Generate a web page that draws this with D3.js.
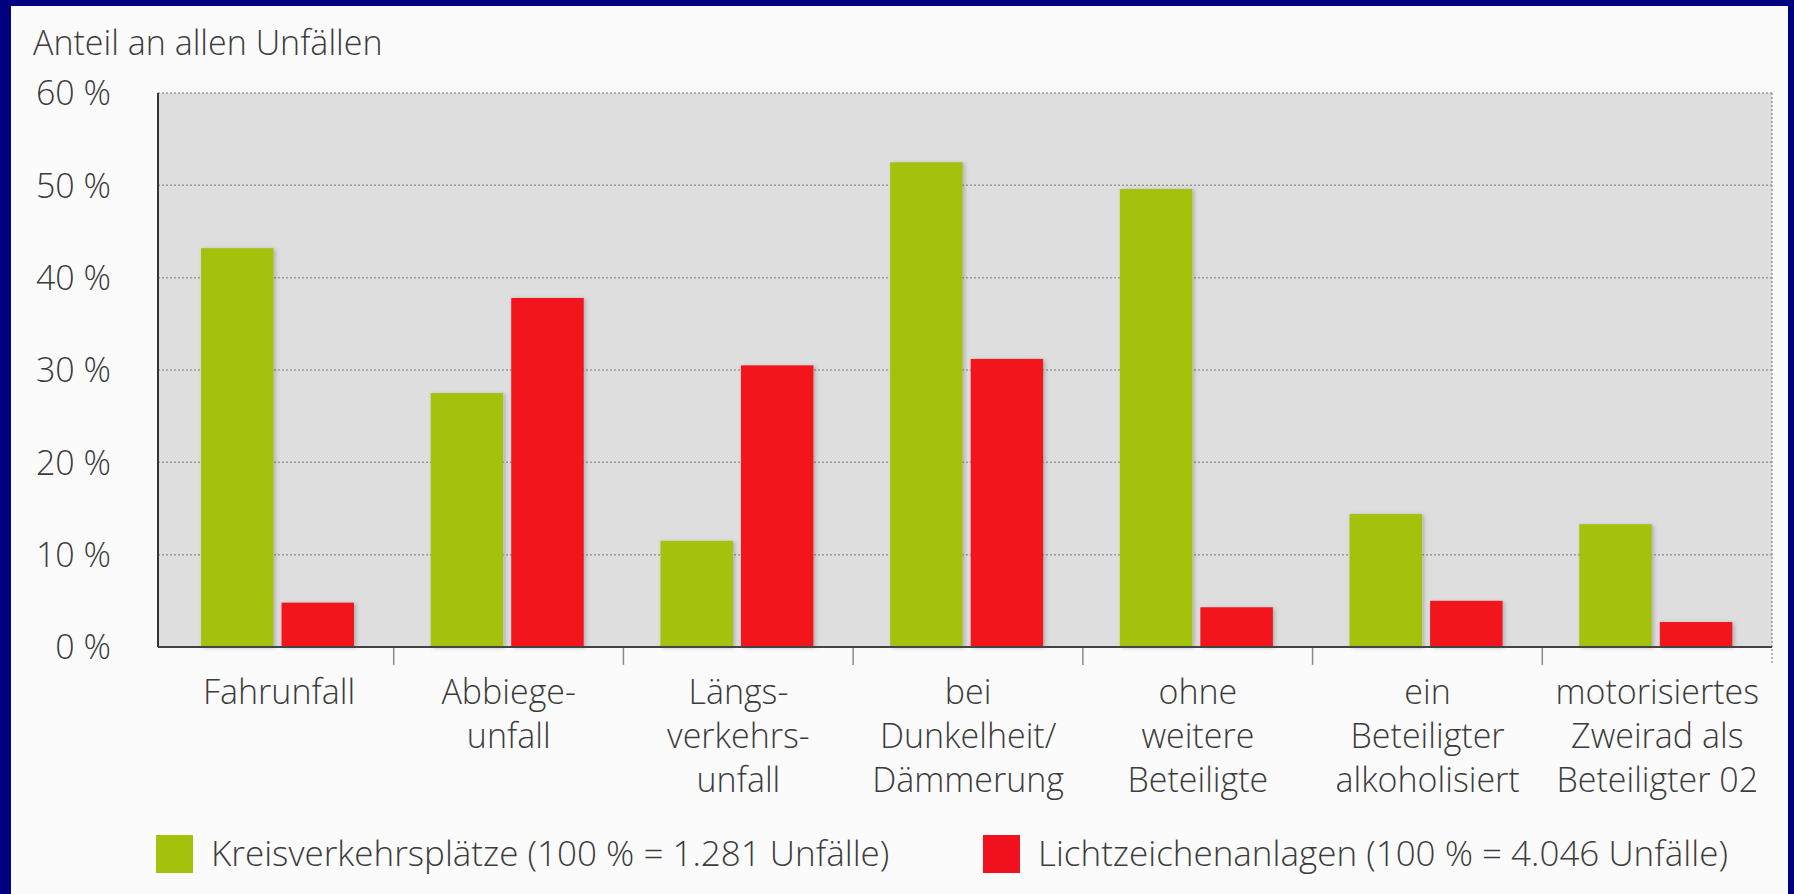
<!DOCTYPE html>
<html>
<head>
<meta charset="utf-8">
<script src="https://cdn.jsdelivr.net/npm/d3@7"></script>
<style>
  body { margin: 0; background: #000080; }
  text { font-family: "Open Sans", "Liberation Sans", sans-serif; font-weight: 300; fill: #3c3c3c; }
</style>
</head>
<body>
<div id="chart"></div>
<script>
// Datos
const categorias = [
  ["Fahrunfall"],
  ["Abbiege-", "unfall"],
  ["Längs-", "verkehrs-", "unfall"],
  ["bei", "Dunkelheit/", "Dämmerung"],
  ["ohne", "weitere", "Beteiligte"],
  ["ein", "Beteiligter", "alkoholisiert"],
  ["motorisiertes", "Zweirad als", "Beteiligter 02"]
];
const kreisverkehr = [43.2, 27.5, 11.5, 52.5, 49.6, 14.4, 13.3];
const lichtzeichen = [4.8, 37.8, 30.5, 31.2, 4.3, 5.0, 2.7];
const yTicks = [0, 10, 20, 30, 40, 50, 60];
const serien = ["Kreisverkehrsplätze (100 % = 1.281 Unfälle)", "Lichtzeichenanlagen (100 % = 4.046 Unfälle)"];
const titel = "Anteil an allen Unfällen";

function chart() {
  const width = 1794, height = 894;
  const colores = ["#a4c20c", "#f2121f"];
  const left = 158, bandLeft = 164, right = 1772, top = 93, bottom = 647;
  const fs = 34;

  const svg = d3.select("#chart").append("svg")
    .attr("width", width)
    .attr("height", height);

  // fondo blanco dentro del marco azul
  svg.append("rect")
    .attr("x", 11).attr("y", 6)
    .attr("width", 1777).attr("height", height - 6)
    .attr("fill", "#fbfbfb");

  const defs = svg.append("defs");
  defs.append("filter").attr("id", "sombra")
    .attr("x", "-20%").attr("y", "-20%").attr("width", "140%").attr("height", "140%")
    .append("feDropShadow")
    .attr("dx", 2).attr("dy", 1).attr("stdDeviation", 2)
    .attr("flood-color", "#000").attr("flood-opacity", 0.22);

  const keys = categorias.map((c, i) => "c" + i);

  const x0 = d3.scaleBand().domain(keys).range([bandLeft, right]).padding(0);
  const x1 = d3.scaleBand().domain([0, 1]).range([37, 190]).paddingInner(0.1);
  const y = d3.scaleLinear().domain([0, 60]).range([bottom, top]);

  // area del grafico
  svg.append("rect")
    .attr("x", left).attr("y", y(60))
    .attr("width", right - left).attr("height", y(0) - y(60))
    .attr("fill", "#dedede");

  // lineas de la grilla
  svg.append("g").selectAll("line")
    .data(yTicks.filter(d => d > 0))
    .enter().append("line")
    .attr("x1", left).attr("x2", right)
    .attr("y1", d => y(d)).attr("y2", d => y(d))
    .attr("stroke", "#9a9a9a")
    .attr("stroke-width", 1.5)
    .attr("stroke-dasharray", "2,2");

  // borde derecho punteado
  svg.append("line")
    .attr("x1", right).attr("x2", right)
    .attr("y1", y(60)).attr("y2", y(0) + 18)
    .attr("stroke", "#9a9a9a")
    .attr("stroke-width", 1.5)
    .attr("stroke-dasharray", "2,2");

  // barras
  const filas = keys.map((k, i) => [kreisverkehr[i], lichtzeichen[i]]);
  const grupos = svg.append("g").selectAll("g")
    .data(filas)
    .enter().append("g")
    .attr("transform", (d, i) => "translate(" + x0(keys[i]) + ",0)");

  grupos.selectAll("rect")
    .data(d => d)
    .enter().append("rect")
    .attr("x", (d, j) => x1(j))
    .attr("y", d => y(d))
    .attr("width", x1.bandwidth())
    .attr("height", d => y(0) - y(d))
    .attr("fill", (d, j) => colores[j])
    .attr("filter", "url(#sombra)");

  // marcas entre categorias
  svg.append("g").selectAll("line")
    .data(keys.slice(1))
    .enter().append("line")
    .attr("x1", d => x0(d)).attr("x2", d => x0(d))
    .attr("y1", y(0)).attr("y2", y(0) + 18)
    .attr("stroke", "#8a8a8a")
    .attr("stroke-width", 1.5);

  // ejes
  svg.append("line")
    .attr("x1", left).attr("x2", right)
    .attr("y1", y(0)).attr("y2", y(0))
    .attr("stroke", "#444").attr("stroke-width", 2);
  svg.append("line")
    .attr("x1", left).attr("x2", left)
    .attr("y1", y(60)).attr("y2", y(0))
    .attr("stroke", "#333").attr("stroke-width", 2);

  // etiquetas del eje y
  const yAxis = svg.append("g")
    .attr("transform", "translate(111,0)")
    .call(d3.axisLeft(y).tickValues(yTicks).tickSize(0).tickPadding(0).tickFormat(d => d + " %"));
  yAxis.select(".domain").remove();
  yAxis.selectAll("text")
    .attr("font-size", fs)
    .attr("font-family", null)
    .attr("dy", "0.35em")
    .attr("fill", "#3c3c3c");

  // etiquetas de categorias
  const etiquetas = svg.append("g").selectAll("text")
    .data(categorias)
    .enter().append("text")
    .attr("text-anchor", "middle")
    .attr("font-size", fs)
    .attr("transform", (d, i) => "translate(" + (x0(keys[i]) + 115) + ",704)");
  etiquetas.selectAll("tspan")
    .data(d => d)
    .enter().append("tspan")
    .attr("x", 0)
    .attr("y", (d, j) => j * 44)
    .text(d => d);

  // titulo
  svg.append("text")
    .attr("x", 33).attr("y", 55)
    .attr("font-size", fs)
    .text(titel);

  // leyenda
  const leyX = [156, 983];
  const leyenda = svg.append("g").selectAll("g")
    .data(serien)
    .enter().append("g")
    .attr("transform", (d, i) => "translate(" + leyX[i] + ",835)");
  leyenda.append("rect")
    .attr("width", 37).attr("height", 38)
    .attr("fill", (d, i) => colores[i]);
  leyenda.append("text")
    .attr("x", 55).attr("y", 19)
    .attr("dy", "0.35em")
    .attr("font-size", 35)
    .text(d => d);
}

chart();
</script>
</body>
</html>
